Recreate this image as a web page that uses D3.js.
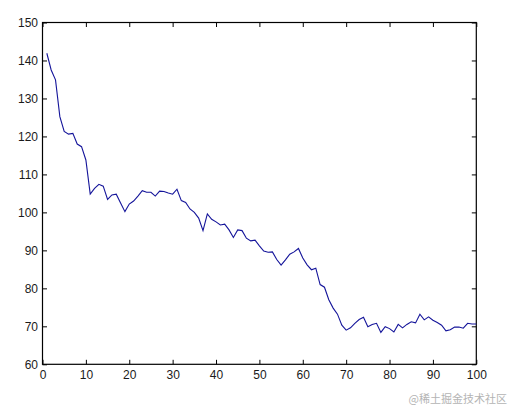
<!DOCTYPE html>
<html>
<head>
<meta charset="utf-8">
<script src="https://cdn.jsdelivr.net/npm/d3@7"></script>
<style>
html,body{margin:0;padding:0;background:#fff;}
svg{display:block;}
</style>
</head>
<body>
<svg id="chart" width="511" height="409"></svg>
<script>
// Data (x = 1..100)
const xValues = d3.range(1, 101);
const yValues = [
  141.9, 137.5, 134.9, 125.2, 121.3, 120.6, 120.8, 118.0, 117.3, 113.8,
  104.8, 106.3, 107.4, 106.9, 103.4, 104.6, 104.8, 102.5, 100.2, 102.2,
  103.0, 104.3, 105.7, 105.3, 105.3, 104.3, 105.6, 105.5, 105.1, 104.8,
  106.1, 103.1, 102.6, 100.9, 100.0, 98.5, 95.2, 99.6, 98.2, 97.5,
  96.7, 96.9, 95.4, 93.4, 95.4, 95.2, 93.2, 92.5, 92.7, 91.2,
  89.8, 89.5, 89.6, 87.6, 86.1, 87.5, 89.0, 89.6, 90.5, 88.0,
  86.2, 84.9, 85.3, 81.0, 80.3, 77.0, 74.8, 73.2, 70.3, 69.0,
  69.6, 70.8, 71.8, 72.4, 69.9, 70.5, 70.8, 68.4, 69.9, 69.4,
  68.5, 70.5, 69.6, 70.5, 71.2, 70.9, 73.2, 71.7, 72.5, 71.6,
  71.0, 70.3, 68.8, 69.1, 69.8, 69.8, 69.5, 70.8, 70.6, 70.6
];
const xTicks = [0, 10, 20, 30, 40, 50, 60, 70, 80, 90, 100];
const yTicks = [60, 70, 80, 90, 100, 110, 120, 130, 140, 150];
const xDomain = [0, 100];
const yDomain = [60, 150];
const watermark = "@稀土掘金技术社区";

const svg = d3.select("#chart");
const L = 42.5, R = 476.3, T = 22.5, B = 364.3;
const x = d3.scaleLinear().domain(xDomain).range([L, R]);
const y = d3.scaleLinear().domain(yDomain).range([B, T]);
const tick = 4.5;
const font = "'Liberation Sans', Arial, sans-serif";

function styleAxis(g) {
  g.select(".domain").remove();
  g.selectAll(".tick line").attr("stroke", "#000").attr("stroke-width", 1);
  g.selectAll(".tick text").attr("fill", "#1a1a1a").style("font-family", font).style("font-size", "12px");
}

// bottom axis with labels
svg.append("g").attr("transform", `translate(0,${B})`)
  .call(d3.axisBottom(x).tickValues(xTicks).tickFormat(d3.format("d"))
    .tickSizeInner(-tick).tickSizeOuter(0).tickPadding(6))
  .call(styleAxis);
// top axis ticks
svg.append("g").attr("transform", `translate(0,${T})`)
  .call(d3.axisTop(x).tickValues(xTicks).tickFormat("")
    .tickSizeInner(-tick).tickSizeOuter(0))
  .call(styleAxis);
// left axis with labels
svg.append("g").attr("transform", `translate(${L},0)`)
  .call(d3.axisLeft(y).tickValues(yTicks).tickFormat(d3.format("d"))
    .tickSizeInner(-tick).tickSizeOuter(0).tickPadding(4.5))
  .call(styleAxis);
// right axis ticks
svg.append("g").attr("transform", `translate(${R},0)`)
  .call(d3.axisRight(y).tickValues(yTicks).tickFormat("")
    .tickSizeInner(-tick).tickSizeOuter(0))
  .call(styleAxis);

// box
svg.append("rect")
  .attr("x", x(xDomain[0])).attr("y", y(yDomain[1]))
  .attr("width", x(xDomain[1]) - x(xDomain[0]))
  .attr("height", y(yDomain[0]) - y(yDomain[1]))
  .attr("fill", "none").attr("stroke", "#000").attr("stroke-width", 1.2);

// line
const data = xValues.map((d, i) => [d, yValues[i]]);
svg.append("path")
  .datum(data)
  .attr("fill", "none")
  .attr("stroke", "#14149a")
  .attr("stroke-width", 1.1)
  .attr("d", d3.line().x(d => x(d[0])).y(d => y(d[1])));

// watermark
svg.append("text")
  .attr("x", 507).attr("y", 403)
  .attr("text-anchor", "end")
  .attr("fill", "#b4b4b4")
  .style("font-family", "'Noto Sans CJK SC', sans-serif")
  .style("font-size", "11px")
  .text(watermark);
</script>
</body>
</html>
